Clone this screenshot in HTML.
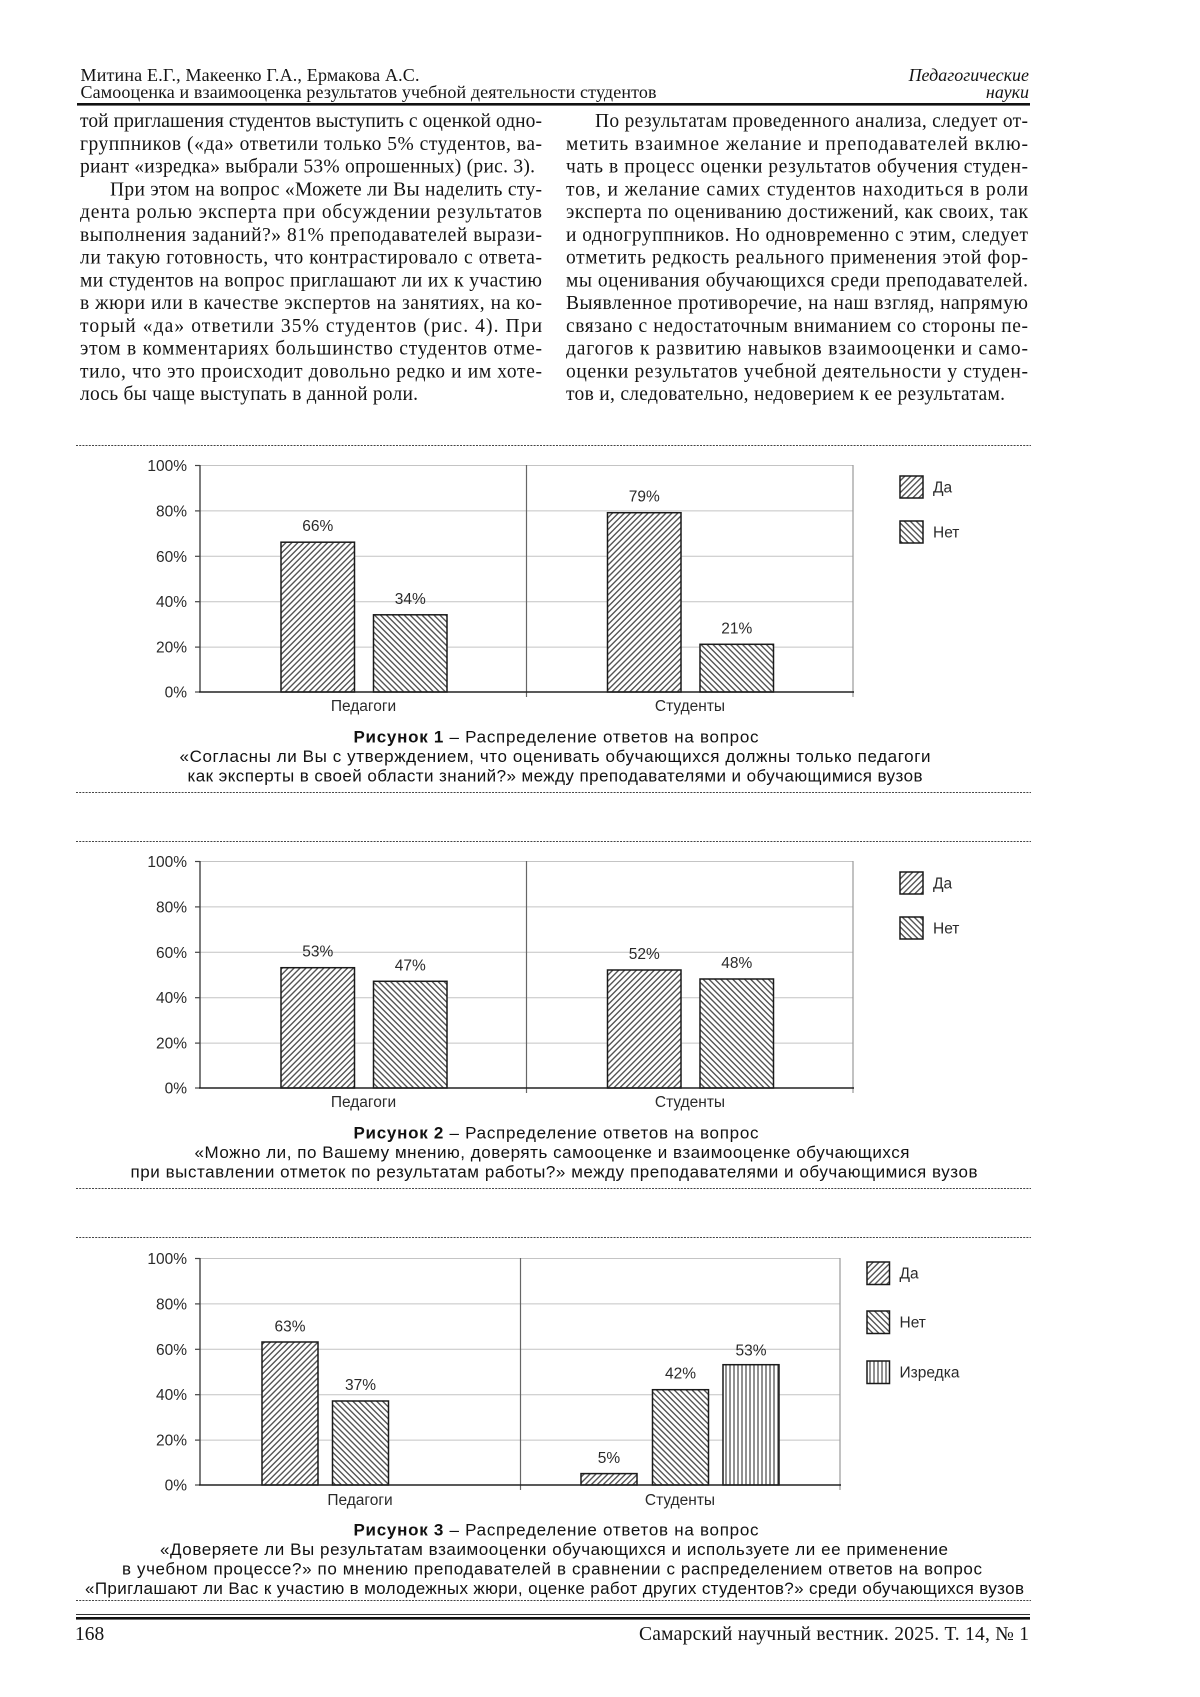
<!DOCTYPE html>
<html lang="ru">
<head>
<meta charset="utf-8">
<style>
  html,body{margin:0;padding:0;background:#fff;}
  svg{display:block;}
  .serif{font-family:"Liberation Serif","DejaVu Serif",serif;fill:#141414;}
  .body{font-size:19.5px;}
  .hdr{font-size:18px;}
  .sans{font-family:"Liberation Sans","DejaVu Sans",sans-serif;fill:#2a2a2a;}
  .tick{font-size:15.5px;}
  .cap{font-size:17px;fill:#111;}
</style>
</head>
<body>
<svg width="1200" height="1697" viewBox="0 0 1200 1697" xmlns="http://www.w3.org/2000/svg">
  <defs>
    <pattern id="pDa" patternUnits="userSpaceOnUse" width="4.2" height="4.2" patternTransform="rotate(45)">
      <rect width="4.2" height="4.2" fill="#fff"/>
      <line x1="2.1" y1="0" x2="2.1" y2="4.2" stroke="#555" stroke-width="1.4"/>
    </pattern>
    <pattern id="pNet" patternUnits="userSpaceOnUse" width="4.2" height="4.2" patternTransform="rotate(-45)">
      <rect width="4.2" height="4.2" fill="#fff"/>
      <line x1="2.1" y1="0" x2="2.1" y2="4.2" stroke="#555" stroke-width="1.4"/>
    </pattern>
    <pattern id="pIz" patternUnits="userSpaceOnUse" width="4" height="4">
      <rect width="4" height="4" fill="#fff"/>
      <line x1="2" y1="0" x2="2" y2="4" stroke="#555" stroke-width="1.3"/>
    </pattern>
  </defs>

  <rect width="1200" height="1697" fill="#fff"/>

  <!-- HEADER -->
  <g class="serif hdr">
    <text x="80.5" y="81" textLength="339" lengthAdjust="spacing">Митина Е.Г., Макеенко Г.А., Ермакова А.С.</text>
    <text x="80.5" y="98" textLength="576" lengthAdjust="spacing">Самооценка и взаимооценка результатов учебной деятельности студентов</text>
    <text x="1029" y="81" text-anchor="end" font-style="italic">Педагогические</text>
    <text x="1029" y="98" text-anchor="end" font-style="italic">науки</text>
  </g>
  <rect x="77" y="103" width="953" height="2.6" fill="#111"/>

  <!-- BODY TEXT LEFT -->
  <g class="serif body">
    <text x="80" y="127" textLength="462" lengthAdjust="spacing">той приглашения студентов выступить с оценкой одно-</text>
    <text x="80" y="149.75" textLength="462" lengthAdjust="spacing">группников («да» ответили только 5% студентов, ва-</text>
    <text x="80" y="172.5" textLength="455" lengthAdjust="spacing">риант «изредка» выбрали 53% опрошенных) (рис. 3).</text>
    <text x="110" y="195.25" textLength="432" lengthAdjust="spacing">При этом на вопрос «Можете ли Вы наделить сту-</text>
    <text x="80" y="218" textLength="462" lengthAdjust="spacing">дента ролью эксперта при обсуждении результатов</text>
    <text x="80" y="240.75" textLength="462" lengthAdjust="spacing">выполнения заданий?» 81% преподавателей вырази-</text>
    <text x="80" y="263.5" textLength="462" lengthAdjust="spacing">ли такую готовность, что контрастировало с ответа-</text>
    <text x="80" y="286.25" textLength="462" lengthAdjust="spacing">ми студентов на вопрос приглашают ли их к участию</text>
    <text x="80" y="309" textLength="462" lengthAdjust="spacing">в жюри или в качестве экспертов на занятиях, на ко-</text>
    <text x="80" y="331.75" textLength="462" lengthAdjust="spacing">торый «да» ответили 35% студентов (рис. 4). При</text>
    <text x="80" y="354.5" textLength="462" lengthAdjust="spacing">этом в комментариях большинство студентов отме-</text>
    <text x="80" y="377.25" textLength="462" lengthAdjust="spacing">тило, что это происходит довольно редко и им хоте-</text>
    <text x="80" y="400" textLength="338" lengthAdjust="spacing">лось бы чаще выступать в данной роли.</text>
  </g>

  <!-- BODY TEXT RIGHT -->
  <g class="serif body">
    <text x="595" y="127" textLength="433" lengthAdjust="spacing">По результатам проведенного анализа, следует от-</text>
    <text x="566" y="149.75" textLength="462" lengthAdjust="spacing">метить взаимное желание и преподавателей вклю-</text>
    <text x="566" y="172.5" textLength="462" lengthAdjust="spacing">чать в процесс оценки результатов обучения студен-</text>
    <text x="566" y="195.25" textLength="462" lengthAdjust="spacing">тов, и желание самих студентов находиться в роли</text>
    <text x="566" y="218" textLength="462" lengthAdjust="spacing">эксперта по оцениванию достижений, как своих, так</text>
    <text x="566" y="240.75" textLength="462" lengthAdjust="spacing">и одногруппников. Но одновременно с этим, следует</text>
    <text x="566" y="263.5" textLength="462" lengthAdjust="spacing">отметить редкость реального применения этой фор-</text>
    <text x="566" y="286.25" textLength="462" lengthAdjust="spacing">мы оценивания обучающихся среди преподавателей.</text>
    <text x="566" y="309" textLength="462" lengthAdjust="spacing">Выявленное противоречие, на наш взгляд, напрямую</text>
    <text x="566" y="331.75" textLength="462" lengthAdjust="spacing">связано с недостаточным вниманием со стороны пе-</text>
    <text x="566" y="354.5" textLength="462" lengthAdjust="spacing">дагогов к развитию навыков взаимооценки и само-</text>
    <text x="566" y="377.25" textLength="462" lengthAdjust="spacing">оценки результатов учебной деятельности у студен-</text>
    <text x="566" y="400" textLength="439" lengthAdjust="spacing">тов и, следовательно, недоверием к ее результатам.</text>
  </g>

  <!-- DASHED SEPARATORS -->
  <g stroke="#444" stroke-width="1" stroke-dasharray="2 1.2">
    <line x1="76" y1="445.5" x2="1031" y2="445.5"/>
    <line x1="76" y1="792.5" x2="1031" y2="792.5"/>
    <line x1="76" y1="841.5" x2="1031" y2="841.5"/>
    <line x1="76" y1="1188.5" x2="1031" y2="1188.5"/>
    <line x1="76" y1="1237.5" x2="1031" y2="1237.5"/>
    <line x1="76" y1="1600.5" x2="1031" y2="1600.5"/>
  </g>

  <!-- ================= CHART 1 ================= -->
  <g>
    <g stroke="#c4c4c4" stroke-width="1">
      <line x1="200" y1="465.5" x2="853" y2="465.5"/>
      <line x1="200" y1="510.9" x2="853" y2="510.9"/>
      <line x1="200" y1="556.3" x2="853" y2="556.3"/>
      <line x1="200" y1="601.7" x2="853" y2="601.7"/>
      <line x1="200" y1="647.1" x2="853" y2="647.1"/>
    </g>
    <line x1="853" y1="465" x2="853" y2="697" stroke="#999" stroke-width="1.2"/>
    <line x1="526.5" y1="465" x2="526.5" y2="697" stroke="#666" stroke-width="1.2"/>
    <line x1="200" y1="465" x2="200" y2="692" stroke="#444" stroke-width="1.4"/>
    <g stroke="#444" stroke-width="1.2">
      <line x1="195" y1="465.5" x2="200" y2="465.5"/>
      <line x1="195" y1="510.9" x2="200" y2="510.9"/>
      <line x1="195" y1="556.3" x2="200" y2="556.3"/>
      <line x1="195" y1="601.7" x2="200" y2="601.7"/>
      <line x1="195" y1="647.1" x2="200" y2="647.1"/>
      <line x1="195" y1="692" x2="200" y2="692"/>
    </g>
    <g stroke="#1a1a1a" stroke-width="1.5">
      <rect x="281" y="542.2" width="73.5" height="149.8" fill="url(#pDa)"/>
      <rect x="373.5" y="614.8" width="73.5" height="77.2" fill="url(#pNet)"/>
      <rect x="607.5" y="512.7" width="73.5" height="179.3" fill="url(#pDa)"/>
      <rect x="700" y="644.3" width="73.5" height="47.7" fill="url(#pNet)"/>
    </g>
    <line x1="199" y1="692" x2="854" y2="692" stroke="#222" stroke-width="1.6"/>
    <g class="sans tick" text-anchor="end">
      <text x="187" y="471">100%</text>
      <text x="187" y="516.4">80%</text>
      <text x="187" y="561.8">60%</text>
      <text x="187" y="607.2">40%</text>
      <text x="187" y="652.6">20%</text>
      <text x="187" y="697.5">0%</text>
    </g>
    <g class="sans tick" text-anchor="middle">
      <text x="317.75" y="531">66%</text>
      <text x="410.25" y="603.8">34%</text>
      <text x="644.25" y="501.7">79%</text>
      <text x="736.75" y="633.3">21%</text>
      <text x="363.5" y="711">Педагоги</text>
      <text x="690" y="711">Студенты</text>
    </g>
    <rect x="900" y="476" width="23" height="22" fill="url(#pDa)" stroke="#1a1a1a" stroke-width="1.5"/>
    <rect x="900" y="521" width="23" height="22" fill="url(#pNet)" stroke="#1a1a1a" stroke-width="1.5"/>
    <g class="sans tick">
      <text x="933" y="492.5">Да</text>
      <text x="933" y="537.5">Нет</text>
    </g>
    <g class="sans cap" text-anchor="middle">
      <text x="556" y="742.5" textLength="405" lengthAdjust="spacing"><tspan font-weight="bold">Рисунок 1</tspan> – Распределение ответов на вопрос</text>
      <text x="555" y="762" textLength="751" lengthAdjust="spacing">«Согласны ли Вы с утверждением, что оценивать обучающихся должны только педагоги</text>
      <text x="555" y="781.5" textLength="735" lengthAdjust="spacing">как эксперты в своей области знаний?» между преподавателями и обучающимися вузов</text>
    </g>
  </g>

  <!-- ================= CHART 2 ================= -->
  <g>
    <g stroke="#c4c4c4" stroke-width="1">
      <line x1="200" y1="861.5" x2="853" y2="861.5"/>
      <line x1="200" y1="906.9" x2="853" y2="906.9"/>
      <line x1="200" y1="952.3" x2="853" y2="952.3"/>
      <line x1="200" y1="997.7" x2="853" y2="997.7"/>
      <line x1="200" y1="1043.1" x2="853" y2="1043.1"/>
    </g>
    <line x1="853" y1="861" x2="853" y2="1093" stroke="#999" stroke-width="1.2"/>
    <line x1="526.5" y1="861" x2="526.5" y2="1093" stroke="#666" stroke-width="1.2"/>
    <line x1="200" y1="861" x2="200" y2="1088" stroke="#444" stroke-width="1.4"/>
    <g stroke="#444" stroke-width="1.2">
      <line x1="195" y1="861.5" x2="200" y2="861.5"/>
      <line x1="195" y1="906.9" x2="200" y2="906.9"/>
      <line x1="195" y1="952.3" x2="200" y2="952.3"/>
      <line x1="195" y1="997.7" x2="200" y2="997.7"/>
      <line x1="195" y1="1043.1" x2="200" y2="1043.1"/>
      <line x1="195" y1="1088" x2="200" y2="1088"/>
    </g>
    <g stroke="#1a1a1a" stroke-width="1.5">
      <rect x="281" y="967.7" width="73.5" height="120.3" fill="url(#pDa)"/>
      <rect x="373.5" y="981.3" width="73.5" height="106.7" fill="url(#pNet)"/>
      <rect x="607.5" y="970" width="73.5" height="118" fill="url(#pDa)"/>
      <rect x="700" y="979" width="73.5" height="109" fill="url(#pNet)"/>
    </g>
    <line x1="199" y1="1088" x2="854" y2="1088" stroke="#222" stroke-width="1.6"/>
    <g class="sans tick" text-anchor="end">
      <text x="187" y="867">100%</text>
      <text x="187" y="912.4">80%</text>
      <text x="187" y="957.8">60%</text>
      <text x="187" y="1003.2">40%</text>
      <text x="187" y="1048.6">20%</text>
      <text x="187" y="1093.5">0%</text>
    </g>
    <g class="sans tick" text-anchor="middle">
      <text x="317.75" y="956.7">53%</text>
      <text x="410.25" y="970.3">47%</text>
      <text x="644.25" y="959">52%</text>
      <text x="736.75" y="968">48%</text>
      <text x="363.5" y="1107">Педагоги</text>
      <text x="690" y="1107">Студенты</text>
    </g>
    <rect x="900" y="872" width="23" height="22" fill="url(#pDa)" stroke="#1a1a1a" stroke-width="1.5"/>
    <rect x="900" y="917" width="23" height="22" fill="url(#pNet)" stroke="#1a1a1a" stroke-width="1.5"/>
    <g class="sans tick">
      <text x="933" y="888.5">Да</text>
      <text x="933" y="933.5">Нет</text>
    </g>
    <g class="sans cap" text-anchor="middle">
      <text x="556" y="1138.5" textLength="405" lengthAdjust="spacing"><tspan font-weight="bold">Рисунок 2</tspan> – Распределение ответов на вопрос</text>
      <text x="552" y="1158" textLength="715" lengthAdjust="spacing">«Можно ли, по Вашему мнению, доверять самооценке и взаимооценке обучающихся</text>
      <text x="554" y="1177.5" textLength="847" lengthAdjust="spacing">при выставлении отметок по результатам работы?» между преподавателями и обучающимися вузов</text>
    </g>
  </g>

  <!-- ================= CHART 3 ================= -->
  <g>
    <g stroke="#c4c4c4" stroke-width="1">
      <line x1="200" y1="1258.5" x2="840" y2="1258.5"/>
      <line x1="200" y1="1303.9" x2="840" y2="1303.9"/>
      <line x1="200" y1="1349.3" x2="840" y2="1349.3"/>
      <line x1="200" y1="1394.7" x2="840" y2="1394.7"/>
      <line x1="200" y1="1440.1" x2="840" y2="1440.1"/>
    </g>
    <line x1="840" y1="1258" x2="840" y2="1490" stroke="#999" stroke-width="1.2"/>
    <line x1="520.5" y1="1258" x2="520.5" y2="1490" stroke="#666" stroke-width="1.2"/>
    <line x1="200" y1="1258" x2="200" y2="1485" stroke="#444" stroke-width="1.4"/>
    <g stroke="#444" stroke-width="1.2">
      <line x1="195" y1="1258.5" x2="200" y2="1258.5"/>
      <line x1="195" y1="1303.9" x2="200" y2="1303.9"/>
      <line x1="195" y1="1349.3" x2="200" y2="1349.3"/>
      <line x1="195" y1="1394.7" x2="200" y2="1394.7"/>
      <line x1="195" y1="1440.1" x2="200" y2="1440.1"/>
      <line x1="195" y1="1485" x2="200" y2="1485"/>
    </g>
    <g stroke="#1a1a1a" stroke-width="1.5">
      <rect x="262" y="1342" width="56" height="143" fill="url(#pDa)"/>
      <rect x="332.5" y="1401" width="56" height="84" fill="url(#pNet)"/>
      <rect x="581" y="1473.6" width="56" height="11.4" fill="url(#pDa)"/>
      <rect x="652.5" y="1389.7" width="56" height="95.3" fill="url(#pNet)"/>
      <rect x="723" y="1364.7" width="56" height="120.3" fill="url(#pIz)"/>
    </g>
    <line x1="199" y1="1485" x2="841" y2="1485" stroke="#222" stroke-width="1.6"/>
    <g class="sans tick" text-anchor="end">
      <text x="187" y="1264">100%</text>
      <text x="187" y="1309.4">80%</text>
      <text x="187" y="1354.8">60%</text>
      <text x="187" y="1400.2">40%</text>
      <text x="187" y="1445.6">20%</text>
      <text x="187" y="1490.5">0%</text>
    </g>
    <g class="sans tick" text-anchor="middle">
      <text x="290" y="1331.5">63%</text>
      <text x="360.5" y="1390">37%</text>
      <text x="609" y="1463">5%</text>
      <text x="680.5" y="1378.7">42%</text>
      <text x="751" y="1355.5">53%</text>
      <text x="360" y="1505">Педагоги</text>
      <text x="680" y="1505">Студенты</text>
    </g>
    <rect x="867" y="1262" width="22.5" height="22.5" fill="url(#pDa)" stroke="#1a1a1a" stroke-width="1.5"/>
    <rect x="867" y="1311" width="22.5" height="22.5" fill="url(#pNet)" stroke="#1a1a1a" stroke-width="1.5"/>
    <rect x="867" y="1361" width="22.5" height="22.5" fill="url(#pIz)" stroke="#1a1a1a" stroke-width="1.5"/>
    <g class="sans tick">
      <text x="899.5" y="1278.5">Да</text>
      <text x="899.5" y="1327.5">Нет</text>
      <text x="899.5" y="1377.5">Изредка</text>
    </g>
    <g class="sans cap" text-anchor="middle">
      <text x="556" y="1535.5" textLength="405" lengthAdjust="spacing"><tspan font-weight="bold">Рисунок 3</tspan> – Распределение ответов на вопрос</text>
      <text x="554" y="1555" textLength="788" lengthAdjust="spacing">«Доверяете ли Вы результатам взаимооценки обучающихся и используете ли ее применение</text>
      <text x="552" y="1574.5" textLength="860" lengthAdjust="spacing">в учебном процессе?» по мнению преподавателей в сравнении с распределением ответов на вопрос</text>
      <text x="554.5" y="1594" textLength="939" lengthAdjust="spacing">«Приглашают ли Вас к участию в молодежных жюри, оценке работ других студентов?» среди обучающихся вузов</text>
    </g>
  </g>

  <!-- FOOTER -->
  <line x1="76" y1="1614.5" x2="1030" y2="1614.5" stroke="#333" stroke-width="1"/>
  <rect x="76" y="1617" width="954" height="2.6" fill="#111"/>
  <g class="serif body">
    <text x="75" y="1640">168</text>
    <text x="639" y="1640" textLength="390" lengthAdjust="spacing">Самарский научный вестник. 2025. Т. 14, № 1</text>
  </g>
</svg>
</body>
</html>
